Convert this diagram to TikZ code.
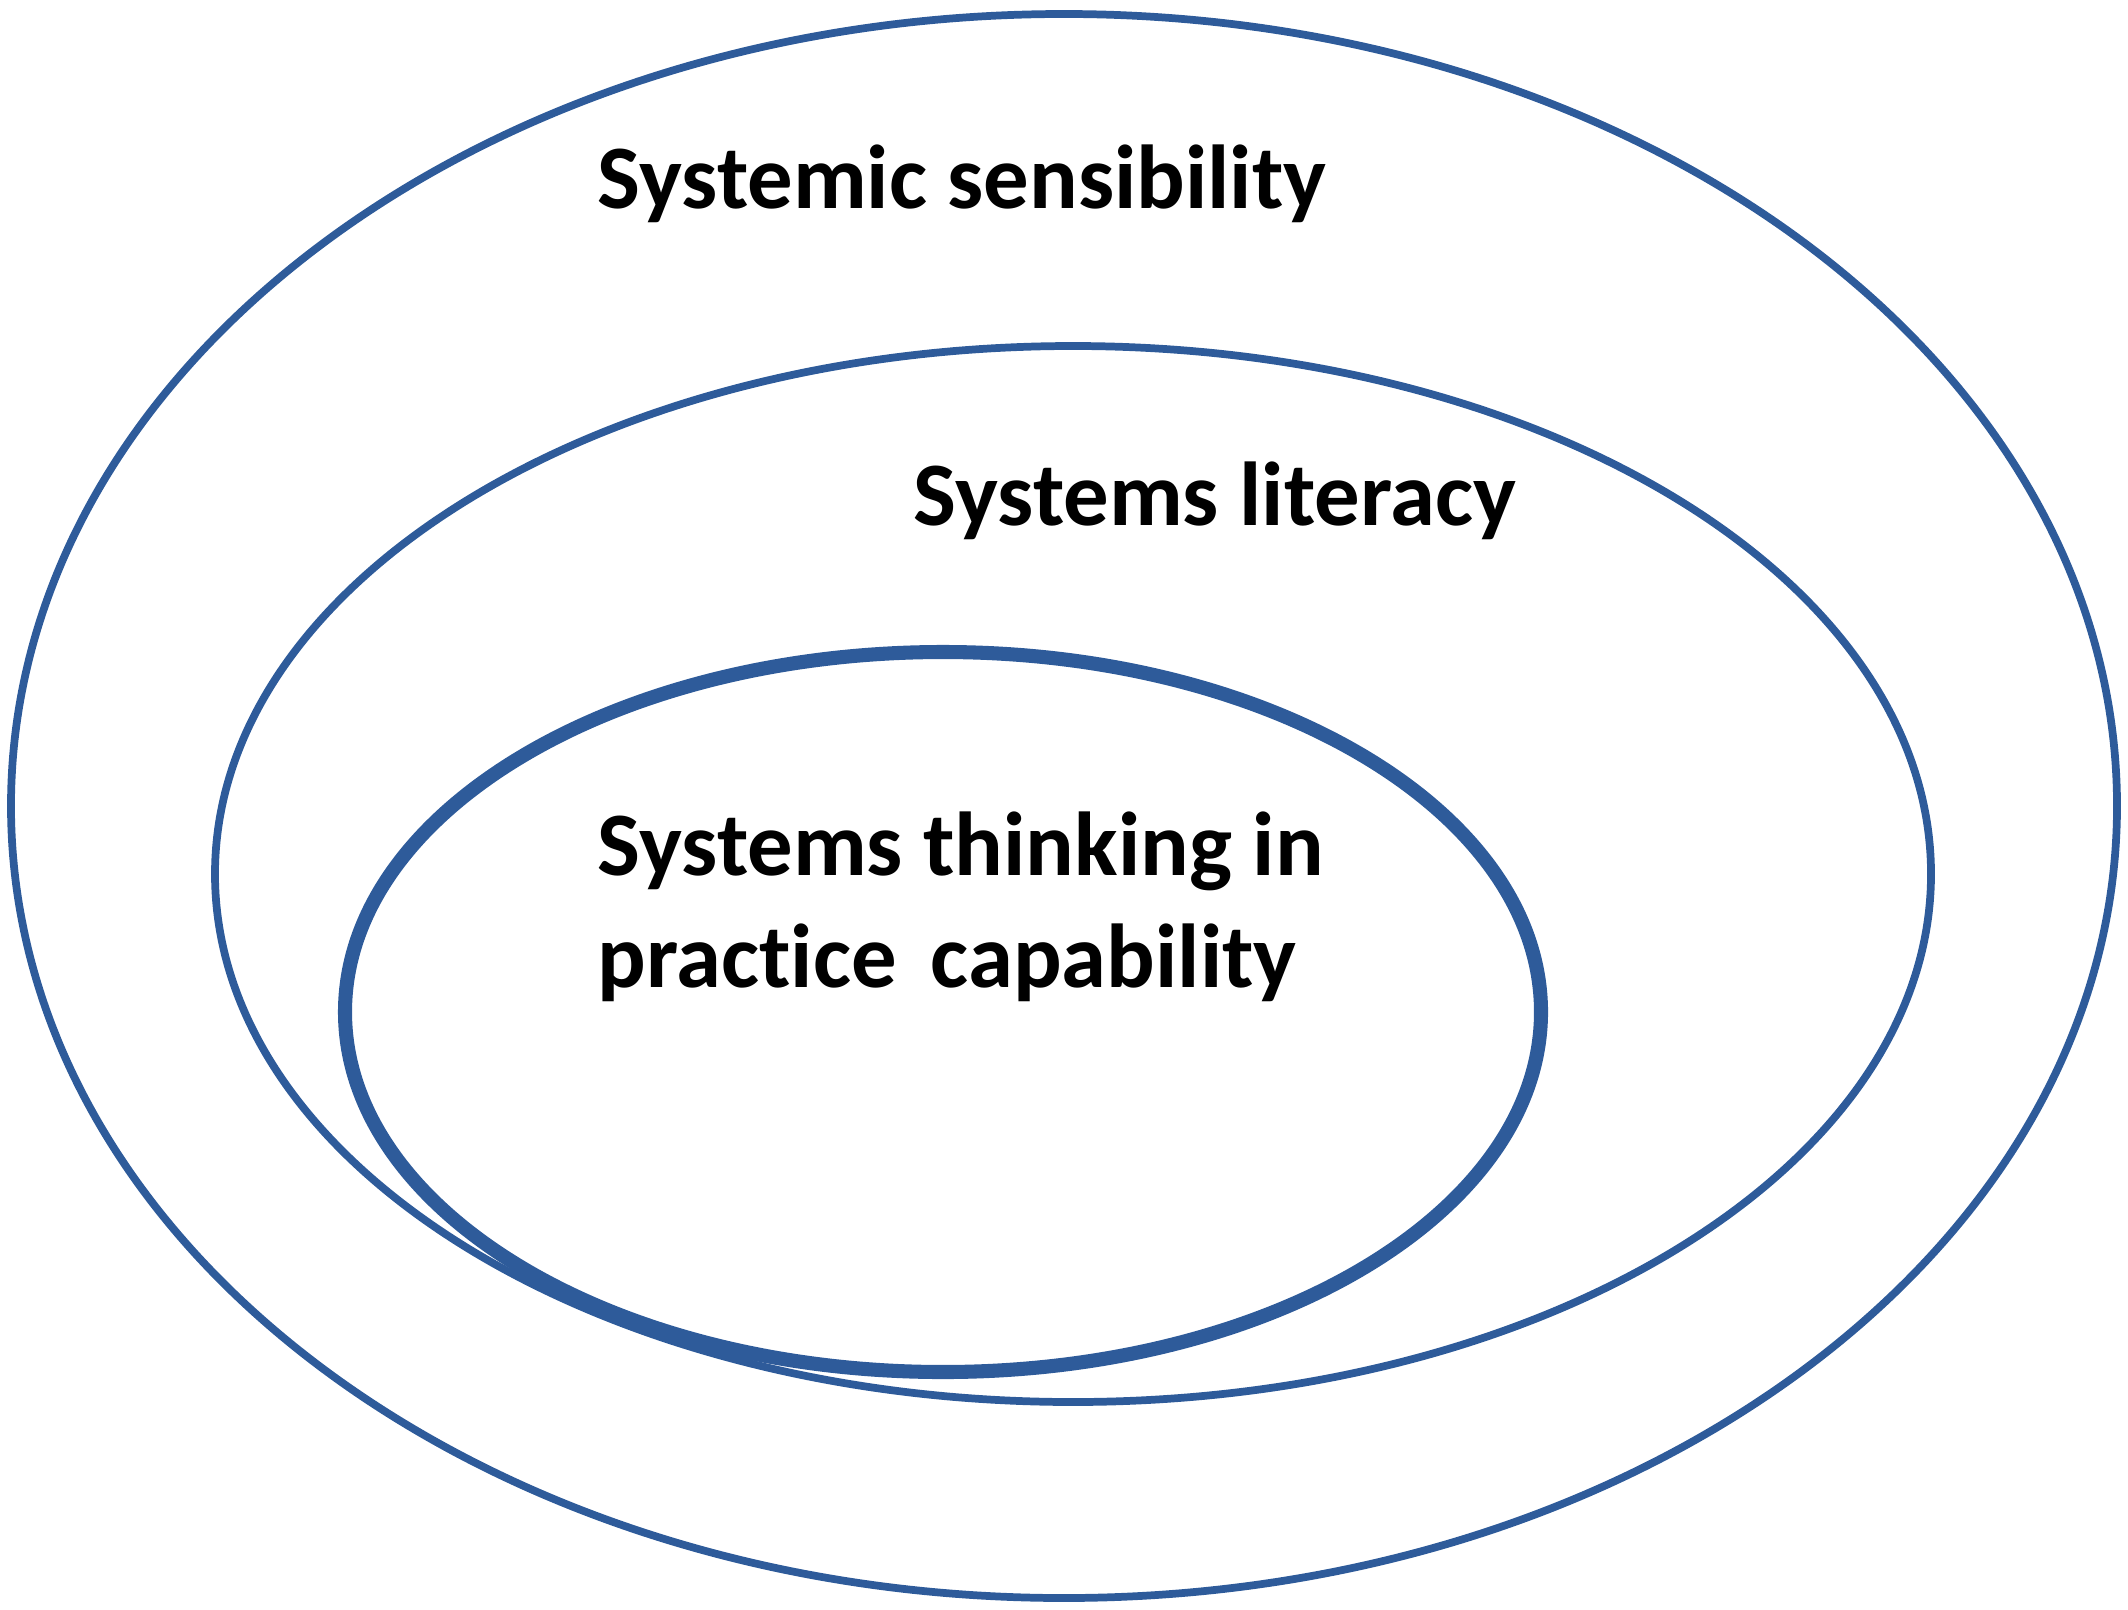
\documentclass[tikz,border=0pt]{standalone}
\usepackage{fontspec}
\setmainfont{Carlito}[Ligatures=NoCommon]
\definecolor{ringblue}{RGB}{46,91,154}
\tikzset{
  ring/.style={draw=ringblue, line width=2.2pt},
  ringlabel/.style={font=\bfseries\fontsize{25.8}{31.6}\selectfont, anchor=base west, inner sep=0pt, align=left}
}

\begin{document}
\begin{tikzpicture}[x=0.01cm, y=0.01cm]
  \useasboundingbox (0,0) rectangle (2128,-1609);
  \coordinate (sens) at (1064,-806);
  \coordinate (lit)  at (1073,-874);
  \coordinate (prac) at (943,-1012);

  % rings
  \draw[ring] (sens) ellipse [x radius=1053, y radius=792];
  \draw[ring] (lit)  ellipse [x radius=858, y radius=528];
  \draw[ring, line width=4pt] (prac) ellipse [x radius=598, y radius=360];

  \node[ringlabel] (senslabel) at (597,-208) {Systemic sensibility};
  \node[ringlabel] (litlabel)  at (913,-525) {Systems literacy};
  % base = last line
  \node[ringlabel] (praclabel) at (597,-987) {Systems thinking in\\practice\hspace{0.15em} capability};
\end{tikzpicture}
\end{document}
